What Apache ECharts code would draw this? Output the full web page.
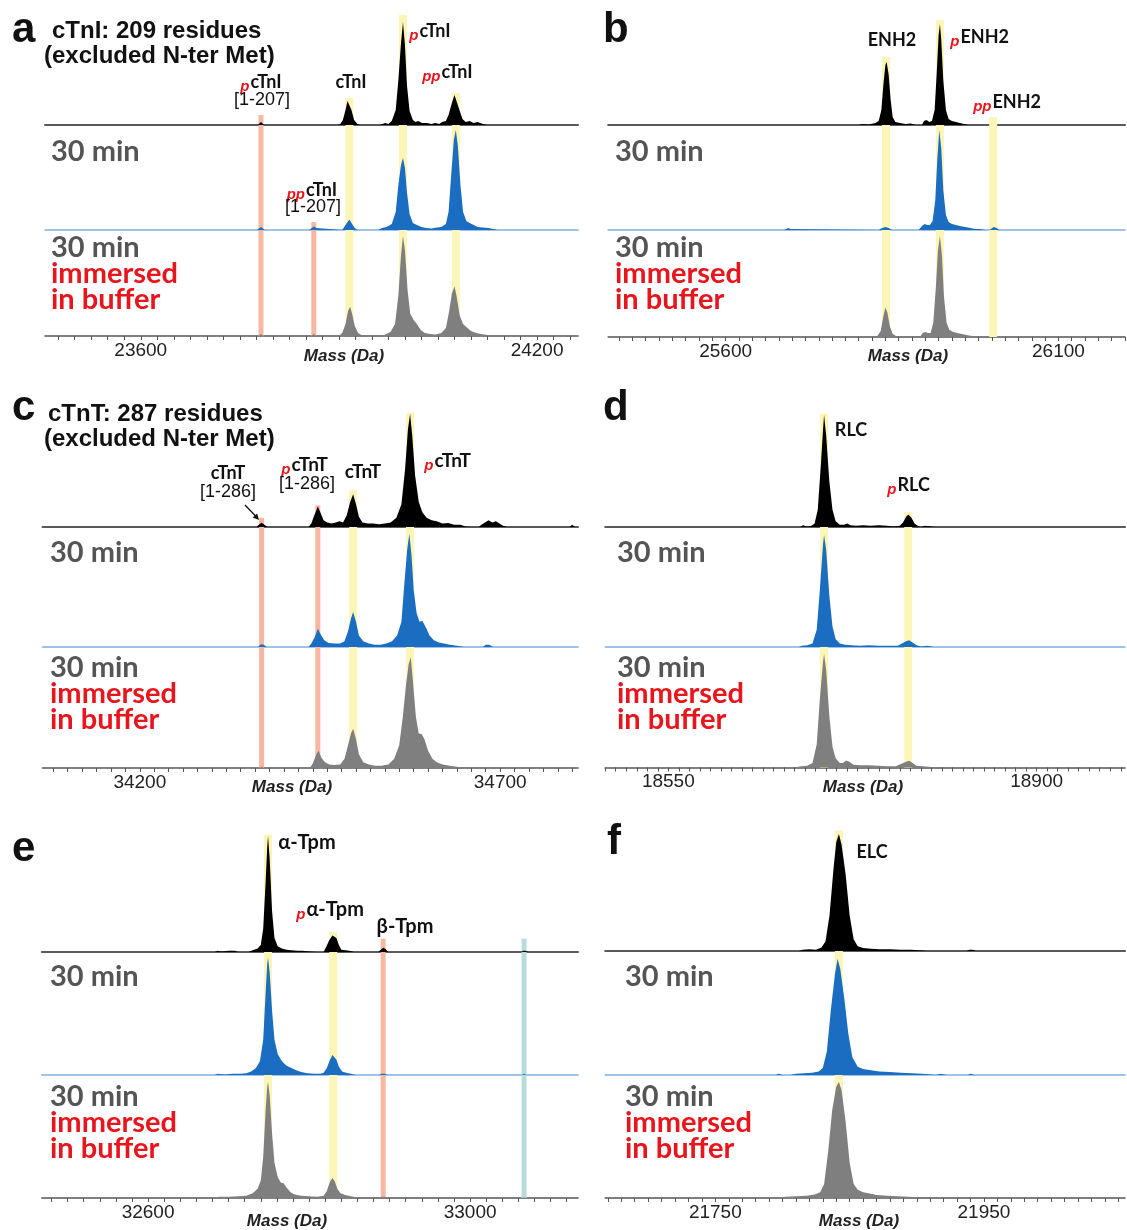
<!DOCTYPE html>
<html><head><meta charset="utf-8">
<script src="https://cdn.jsdelivr.net/npm/echarts@6/dist/echarts.min.js"></script>
<style>html,body{margin:0;padding:0;background:#fff}#c{width:1127px;height:1230px}</style>
</head><body><div id="c"></div><script>
// ---------- DATA (mass in Da, relative intensity; 105 = one trace spacing) ----------
// Panel a: cTnI
const aBlack = [[23455,0],[23633,0],[23636,1],[23639,0],[23777,0],[23779,2],[23782,3],[23785,2],[23787,0],[23898,0],[23902,1],[23906,5],[23910,15],[23913,24],[23916,24],[23919,15],[23923,5],[23928,1],[23932,0],[23962,0],[23965,2],[23970,2],[23975,1],[23980,4],[23986,15],[23990,45],[23994,82],[23997,103],[24000,80],[24003,40],[24007,14],[24012,5],[24016,3],[24020,4],[24026,2],[24033,2],[24040,1],[24046,2],[24052,1],[24056,3],[24062,4],[24066,10],[24071,22],[24075,30],[24078,28],[24082,16],[24087,6],[24092,3],[24098,4],[24104,2],[24110,3],[24118,1],[24125,0]];
const aBlue = [[23455,0],[23776,0],[23779,2],[23782,3],[23785,2],[23788,0],[23855,0],[23858,2],[23862,3.5],[23866,2],[23869,0],[23905,0],[23908,3],[23912,7],[23916,10.5],[23920,6],[23924,2],[23928,0],[23960,0],[23965,2],[23972,3],[23980,6],[23986,18],[23990,45],[23994,65],[23997,72],[24000,62],[24003,38],[24007,16],[24012,7],[24018,5],[24025,3],[24032,2],[24040,1.5],[24048,2.5],[24055,3],[24062,6],[24066,18],[24070,55],[24074,90],[24077,100],[24080,85],[24084,45],[24088,18],[24093,9],[24098,7],[24104,5],[24110,3],[24118,2.5],[24126,2],[24134,1],[24140,0]];
const aGray = [[23455,0],[23778,0],[23782,2],[23786,0],[23858,0],[23862,2],[23866,0],[23900,0],[23905,3],[23910,12],[23914,25],[23917,29],[23920,22],[23924,10],[23929,3],[23934,1],[23940,0],[23965,0],[23972,2],[23978,4],[23985,12],[23990,40],[23994,80],[23997,99],[24000,85],[24004,45],[24008,22],[24013,16],[24018,12],[24024,6],[24030,3],[24038,2],[24046,1.5],[24055,3],[24062,8],[24067,25],[24071,42],[24075,49],[24078,40],[24083,20],[24088,12],[24093,9],[24100,5],[24108,3],[24115,2],[24125,1],[24135,0]];
const aBandMass = [23782, 23862, 23916, 23997, 24077];
const aBandKind = ['s','s','y','y','y'];
const aBandLevel = [0, 1, 0, 0, 0];
const aBandTop = [10, 8, 27, 110, 32];
const aTickLabels = [23600, 24200];

// Panel b: ENH2
const bBlack = [[25423,0],[25800,0],[25805,1],[25815,0.5],[25825,2],[25830,4],[25834,15],[25837,40],[25840,60],[25842,63],[25845,50],[25848,25],[25851,8],[25855,3],[25862,2],[25870,1],[25878,1.5],[25886,0],[25895,0],[25898,4],[25902,5],[25906,3],[25910,4],[25914,15],[25917,50],[25920,90],[25922,101],[25924,85],[25927,45],[25931,15],[25935,6],[25940,4],[25946,3],[25952,2],[25958,1],[25965,0],[25998,0],[26000,2],[26003,2],[26006,0]];
const bBlue = [[25423,0],[25688,0],[25691,1.5],[25694,2],[25698,1],[25701,0],[25830,0],[25835,2],[25840,3],[25845,2],[25850,0],[25890,0],[25895,4],[25899,6],[25903,5],[25907,5],[25911,9],[25915,30],[25918,70],[25921,100],[25924,82],[25927,40],[25931,15],[25935,8],[25940,6],[25946,5],[25952,4],[25960,3],[25968,2],[25975,1],[25982,1],[25990,0],[25996,0],[25999,2],[26003,3],[26007,2],[26011,0]];
const bGray = [[25423,0],[25820,0],[25828,1],[25833,6],[25837,20],[25840,29],[25843,24],[25847,10],[25851,3],[25856,1],[25862,0],[25892,0],[25896,4],[25900,5],[25904,4],[25908,4],[25912,14],[25916,50],[25919,85],[25922,99],[25925,80],[25928,40],[25932,14],[25936,7],[25942,5],[25948,4],[25955,3],[25962,2],[25970,1],[25978,0],[25998,0],[26001,1.5],[26004,1],[26007,0]];
const bBandMass = [25841, 25922, 26002];
const bBandKind = ['y','y','y'];
const bBandLevel = [0, 0, 0];
const bBandTop = [68, 105, 8];
const bTickLabels = [25600, 26100];

// Panel c: cTnT
const cBlack = [[34065,0],[34362,0],[34365,2],[34369,3.8],[34373,2],[34377,0],[34434,0],[34438,3],[34442,10],[34447,18],[34451,12],[34455,6],[34460,4],[34466,3],[34472,4],[34477,5],[34482,4],[34487,10],[34492,22],[34496,28.6],[34500,20],[34504,9],[34509,4],[34516,3],[34524,3],[34532,2.5],[34540,3],[34548,4],[34556,8],[34563,20],[34568,50],[34572,85],[34575,99],[34578,80],[34582,45],[34587,22],[34592,13],[34598,8],[34605,6],[34612,5],[34620,3],[34628,3.5],[34636,2],[34645,2],[34652,0.5],[34660,0],[34670,0],[34674,2],[34679,4],[34684,5.8],[34689,4],[34694,5],[34699,3],[34704,1],[34710,0],[34796,0],[34800,2],[34804,0]];
const cBlue = [[34065,0],[34364,0],[34368,2.5],[34372,2],[34376,0],[34434,0],[34438,3],[34443,9],[34447,16],[34451,11],[34456,6],[34462,3.5],[34470,3],[34478,3],[34484,5],[34489,14],[34493,25],[34496,30.6],[34500,22],[34504,10],[34510,5],[34518,3],[34526,2],[34534,2],[34542,3],[34550,5],[34557,10],[34563,22],[34567,55],[34571,85],[34574,99],[34577,80],[34580,50],[34584,30],[34588,22],[34592,23],[34597,17],[34602,10],[34608,6],[34615,4],[34622,3],[34630,2],[34640,1],[34650,0],[34676,0],[34680,2],[34685,2],[34690,0]];
const cGray = [[34065,0],[34365,0],[34369,1],[34373,0],[34436,0],[34440,4],[34445,12],[34448,15],[34452,9],[34457,5],[34463,3],[34470,2.5],[34478,3],[34484,8],[34489,20],[34493,30],[34496,34],[34500,25],[34504,12],[34510,5],[34518,3],[34526,2],[34535,2],[34545,3],[34553,8],[34560,20],[34565,45],[34569,70],[34573,90],[34576,96],[34579,75],[34583,45],[34587,30],[34591,29.6],[34595,25],[34600,15],[34606,8],[34612,5],[34620,3],[34630,2],[34640,1],[34650,0]];
const cBandMass = [34369, 34447, 34496, 34575];
const cBandKind = ['s','s','y','y'];
const cBandLevel = [0, 0, 0, 0];
const cBandTop = [8, 19, 32, 100];
const cTickLabels = [34200, 34700];

// Panel d: RLC
const dBlack = [[18490,0],[18675,0],[18678,1.5],[18682,0.5],[18686,1],[18689,3],[18692,15],[18695,55],[18697,85],[18698,98],[18700,80],[18703,40],[18706,15],[18709,5],[18713,2],[18717,2],[18720,3],[18723,1.5],[18728,1],[18735,1.5],[18742,1],[18750,1.5],[18758,1],[18764,0.5],[18770,1],[18773,4],[18776,9],[18778,11],[18781,8],[18784,3],[18787,1],[18790,0],[18794,1],[18800,0.5],[18804,0]];
const dBlue = [[18490,0],[18674,0],[18677,1],[18682,1.5],[18687,3],[18691,15],[18694,50],[18697,90],[18698,98],[18700,85],[18703,45],[18706,18],[18709,7],[18713,3],[18718,2],[18724,1.5],[18732,1],[18740,1.5],[18750,1],[18760,1],[18768,1],[18772,3],[18776,5],[18779,5.8],[18782,4],[18786,1.5],[18790,0.5],[18796,1],[18800,0.5],[18803,0]];
const dGray = [[18490,0],[18670,0],[18676,1],[18682,1.5],[18687,4],[18691,20],[18694,60],[18697,92],[18698,99],[18700,85],[18703,45],[18706,18],[18709,8],[18713,4],[18716,4],[18719,6],[18722,5],[18726,2.5],[18732,2],[18740,2],[18750,1.5],[18758,1],[18766,1],[18771,3],[18776,5],[18779,5.8],[18782,4],[18786,1.5],[18792,1],[18800,0.5],[18806,0]];
const dBandMass = [18698, 18778];
const dBandKind = ['y','y'];
const dBandLevel = [0, 0];
const dBandTop = [99, 13];
const dTickLabels = [18550, 18900];

// Panel e: Tpm
const eBlack = [[32468,0],[32683,0],[32686,1],[32692,0.5],[32700,1],[32708,1],[32712,0],[32725,0],[32730,1.5],[32736,3],[32740,6],[32743,20],[32746,60],[32748,90],[32749,99.3],[32751,80],[32754,35],[32757,12],[32761,5],[32766,3],[32772,2],[32778,1.5],[32785,1],[32792,1],[32800,0.5],[32810,0],[32818,0],[32821,4],[32825,10],[32829,14],[32831,15],[32834,12],[32837,6],[32840,2],[32845,1.5],[32850,1],[32856,0],[32886,0],[32889,2],[32892,3.7],[32895,2.5],[32898,0],[33063,0],[33066,1],[33069,1],[33072,0]];
const eBlue = [[32468,0],[32683,0],[32686,1],[32695,0.5],[32705,1],[32715,1],[32722,1.5],[32728,3],[32734,6],[32739,12],[32743,30],[32746,70],[32748,95],[32749,100],[32751,88],[32754,55],[32757,30],[32761,18],[32766,12],[32772,8],[32778,6],[32784,4],[32790,2.5],[32798,1.5],[32806,1],[32814,1],[32818,2],[32822,6],[32826,13],[32829,17],[32831,18],[32834,13],[32837,7],[32841,3],[32846,2],[32852,1],[32858,0],[32887,0],[32890,1],[32894,1],[32897,0],[33064,0],[33067,1],[33070,0]];
const eGray = [[32468,0],[32683,0],[32688,1],[32700,1],[32712,1.5],[32722,2],[32730,4],[32736,8],[32740,15],[32743,35],[32746,75],[32748,95],[32749,99],[32751,88],[32754,55],[32757,30],[32761,18],[32765,13],[32768,12.8],[32772,9],[32777,5],[32782,3],[32790,2],[32800,1.5],[32810,1],[32818,2],[32822,6],[32826,14],[32829,17],[32832,14],[32835,8],[32839,4],[32845,2.5],[32852,1.5],[32860,0.5],[32866,0],[32887,0],[32890,1],[32894,1],[32897,0],[33064,0],[33067,0.5],[33070,0]];
const eBandMass = [32749, 32830, 32892, 33067];
const eBandKind = ['y','y','s','t'];
const eBandLevel = [0, 0, 0, 0];
const eBandTop = [100, 17, 11.4, 11.4];
const eTickLabels = [32600, 33000];

// Panel f: ELC
const fBlack = [[21668,0],[21812,0],[21815,1],[21820,1.5],[21825,1],[21829,3],[21832,8],[21835,30],[21838,70],[21840,92],[21842,99],[21844,90],[21847,65],[21850,30],[21853,10],[21856,4],[21860,2.5],[21866,2],[21872,1.5],[21880,1.5],[21888,1],[21896,1],[21904,0.5],[21908,0],[21937,0],[21939,1],[21942,1],[21944,0]];
const fBlue = [[21668,0],[21795,0],[21797,1],[21800,0],[21806,0],[21810,1],[21816,1.5],[21822,2],[21827,3],[21830,6],[21833,20],[21836,55],[21839,85],[21841,98.5],[21843,90],[21846,65],[21849,35],[21852,15],[21856,7],[21860,5],[21866,4],[21872,3],[21880,2.5],[21888,2],[21896,1.5],[21904,1],[21910,0.5],[21914,0],[21918,1],[21922,0],[21938,0],[21940,1],[21943,0]];
const fGray = [[21668,0],[21798,0],[21802,1],[21810,1.5],[21818,2],[21824,3],[21828,5],[21831,12],[21834,40],[21837,75],[21840,95],[21842,99],[21844,92],[21847,65],[21850,30],[21853,12],[21856,7],[21860,5],[21864,4],[21870,2.5],[21878,2],[21886,1.5],[21894,1],[21902,0.5],[21908,0]];
const fBandMass = [21842];
const fBandKind = ['y'];
const fBandLevel = [0];
const fBandTop = [102];
const fTickLabels = [21750, 21950];

// ---------- LAYOUT ----------
const panels = [
  {left:45,    right:578,  min:23455, max:24262, tick0:23475, step:25, bases:[125,230,336],   tr:[aBlack,aBlue,aGray], bm:aBandMass, bk:aBandKind, bl:aBandLevel, bt:aBandTop, labels:aTickLabels},
  {left:608.1, right:1125, min:25423.5, max:26200, tick0:25440, step:20, bases:[125,230,337], tr:[bBlack,bBlue,bGray], bm:bBandMass, bk:bBandKind, bl:bBandLevel, bt:bBandTop, labels:bTickLabels},
  {left:42.5,  right:578,  min:34065, max:34808, tick0:34080, step:20, bases:[527,647,768],   tr:[cBlack,cBlue,cGray], bm:cBandMass, bk:cBandKind, bl:cBandLevel, bt:cBandTop, labels:cTickLabels},
  {left:605.2, right:1125, min:18490, max:18984, tick0:18490, step:10, bases:[527,647,767.5], tr:[dBlack,dBlue,dGray], bm:dBandMass, bk:dBandKind, bl:dBandLevel, bt:dBandTop, labels:dTickLabels},
  {left:41.8,  right:578,  min:32468, max:33134, tick0:32480, step:20, bases:[952,1075,1198], tr:[eBlack,eBlue,eGray], bm:eBandMass, bk:eBandKind, bl:eBandLevel, bt:eBandTop, labels:eTickLabels},
  {left:605.2, right:1125, min:21668, max:22055, tick0:21670, step:10, bases:[951,1075,1198], tr:[fBlack,fBlue,fGray], bm:fBandMass, bk:fBandKind, bl:fBandLevel, bt:fBandTop, labels:fTickLabels}
];
const BAND_COLOR = {y:'#fbf6b8', s:'#f7b7a1', t:'#b8dbdb'};
const BAND_PX = {y:8, s:5, t:5};
const TRACE_COLOR = ['#000000','#1b6dc1','#7f7f7f'];
const BASE_COLOR = ['#5a5a5a','#7fb0e2','#555555'];
const BASE_WIDTH = [2, 1.5, 1.5];

const grid=[], xAxis=[], yAxis=[], series=[];
panels.forEach(p=>{
  const S = p.bases[1]-p.bases[0];
  const daPerPx = (p.max-p.min)/(p.right-p.left);
  const ticks=[]; for(let v=p.tick0; v<=p.max; v+=p.step) ticks.push(v);
  for(let L=0; L<3; L++){
    const gi = grid.length;
    const top = L===0 ? p.bases[0]-1.15*S : p.bases[L-1];
    const bottom = p.bases[L];
    grid.push({left:p.left, width:p.right-p.left, top:top, height:bottom-top});
    xAxis.push({gridIndex:gi, type:'value', min:p.min, max:p.max,
      axisLine:{show:true, onZero:false, lineStyle:{color:BASE_COLOR[L], width:BASE_WIDTH[L]}},
      axisTick:{show:L===2, customValues:ticks, length:4, lineStyle:{color:'#555', width:1}},
      axisLabel:{show:L===2, customValues:p.labels, formatter:v=>String(v), fontSize:19, color:'#222', fontFamily:'Liberation Sans', margin:5},
      splitLine:{show:false}});
    const ymax = L===0 ? 105*1.15 : 105;
    yAxis.push({gridIndex:gi, type:'value', min:0, max:ymax, show:false});
    const areas=[];
    p.bm.forEach((m,i)=>{
      if(L < p.bl[i]) return;
      const h = BAND_PX[p.bk[i]]/2*daPerPx;
      const t = L===p.bl[i] ? p.bt[i] : ymax;
      areas.push([{xAxis:m-h, yAxis:0, itemStyle:{color:BAND_COLOR[p.bk[i]]}},{xAxis:m+h, yAxis:t}]);
    });
    series.push({type:'line', xAxisIndex:gi, yAxisIndex:gi, data:p.tr[L], symbol:'none', showSymbol:false,
      lineStyle:{width:0}, areaStyle:{color:TRACE_COLOR[L], opacity:1}, silent:true,
      markArea:{silent:true, label:{show:false}, data:areas}});
  }
});

// ---------- TEXT ----------
const F_LET='bold 42px "Liberation Sans"', F_TTL='bold 24px "Liberation Sans"', F_TIME='bold 29px Lato',
      F_ANN='bold 18px Lato', F_BR='18px "Liberation Sans"', F_P='italic bold 15px "Liberation Sans"', F_MASS='italic bold 17px "Liberation Sans"';
const RED='#e8151c', GRY='#555555';
const g=[];
function T(x,y,text,font,fill,align){ g.push({type:'text', x:x, y:y, silent:true, style:{text:text, font:font, fill:fill, align:align||'center', verticalAlign:'middle'}}); }
// prefixed label: red italic prefix right-aligned at x0, label left-aligned at x0
function P(x0,y,prefix,label,font){ T(x0-0.5,y+5,prefix,F_P,RED,'right'); T(x0+0.5,y,label,font||F_ANN,'#111','left'); }
// panel letters
[['a',12,30],['b',603,30],['c',12,408],['d',603,408],['e',12,849],['f',607,842]].forEach(l=>T(l[1],l[2],l[0],F_LET,'#111','left'));
// titles
T(52,31,'cTnI: 209 residues',F_TTL,'#111','left'); T(44,56,'(excluded N-ter Met)',F_TTL,'#111','left');
T(48,414,'cTnT: 287 residues',F_TTL,'#111','left'); T(44,439,'(excluded N-ter Met)',F_TTL,'#111','left');
// condition labels
[[51,152,248],[615,152,248],[50,553,668],[617,553,668],[50,977,1097],[625,977,1097]].forEach(c=>{
  T(c[0],c[1],'30 min',F_TIME,GRY,'left');
  T(c[0],c[2],'30 min',F_TIME,GRY,'left');
  T(c[0],c[2]+26,'immersed',F_TIME,RED,'left');
  T(c[0],c[2]+52,'in buffer',F_TIME,RED,'left');
});
// axis titles
[[344,356],[908,356],[292,787],[863,787],[287,1221],[859,1221]].forEach(a=>T(a[0],a[1],'Mass (Da)',F_MASS,'#222'));
// annotations panel a
P(250,82,'p','cTnI'); T(262,100,'[1-207]',F_BR,'#111');
T(351,82,'cTnI',F_ANN,'#111');
P(419,31,'p','cTnI');
P(441,72,'pp','cTnI');
P(305.5,190,'pp','cTnI'); T(313,207,'[1-207]',F_BR,'#111');
// panel b
T(892,40,'ENH2',F_ANN,'#111');
P(960,37,'p','ENH2');
P(992,102,'pp','ENH2');
// panel c
T(228,473,'cTnT',F_ANN,'#111'); T(228,492,'[1-286]',F_BR,'#111');
P(291,465,'p','cTnT','bold 19px Lato'); T(307,484,'[1-286]',F_BR,'#111');
T(363,472,'cTnT','bold 19px Lato','#111');
P(434,461,'p','cTnT','bold 19px Lato');
g.push({type:'line', silent:true, shape:{x1:245,y1:505,x2:255.5,y2:516}, style:{stroke:'#111', lineWidth:1.3}});
g.push({type:'polygon', silent:true, shape:{points:[[259,520],[252.7,517.6],[257.1,513.6]]}, style:{fill:'#111'}});
// panel d
T(851,430,'RLC',F_ANN,'#111');
P(897,485,'p','RLC');
// panel e
T(307,843,'α-Tpm','bold 20px Lato','#111');
P(306,910,'p','α-Tpm','bold 20px Lato');
T(405,927,'β-Tpm','bold 20px Lato','#111');
// panel f
T(872,852,'ELC',F_ANN,'#111');

const chart = echarts.init(document.getElementById('c'), null, {renderer:'canvas'});
chart.setOption({animation:false, backgroundColor:'#ffffff', grid, xAxis, yAxis, series, graphic:g});
</script></body></html>
